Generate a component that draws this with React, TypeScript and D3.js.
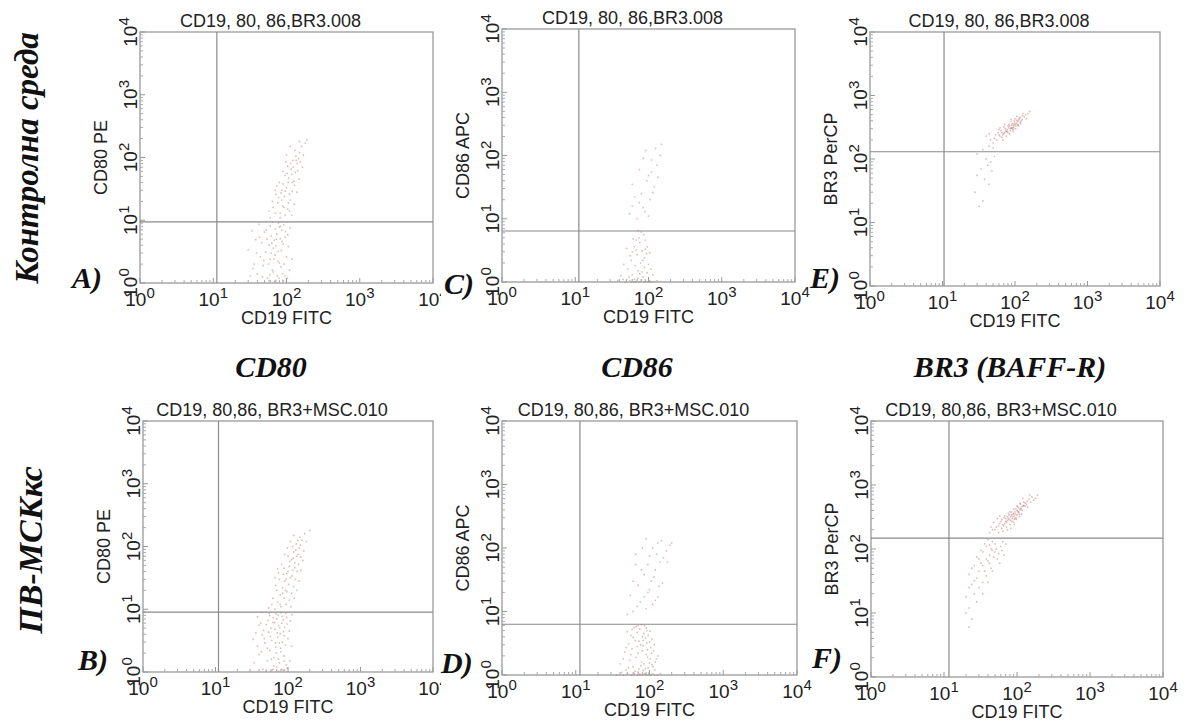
import React from 'react';
import * as d3 from 'd3';

// decade ticks of the log axes
const DECADES = [1, 10, 100, 1000, 10000];
const EXPONENTS = ['0', '1', '2', '3', '4'];

const TITLE_CTRL = 'CD19, 80, 86,BR3.008';
const TITLE_MSC = 'CD19, 80,86, BR3+MSC.010';
const ROW_LABELS = ['Контролна среда', 'ПВ-МСКкс'];
const COL_LABELS = ['CD80', 'CD86', 'BR3 (BAFF-R)'];
const X_LABEL = 'CD19 FITC';

// events: [CD19 FITC, marker]
const eventsA = [
  [55,1.2],[72,1.1],[88,1.4],[64,1.6],[48,1.9],[80,2.1],[95,1.3],[60,2.4],[70,2.8],[52,3.1],
  [85,3.3],[66,3.6],[76,2.2],[58,4.0],[90,4.2],[44,2.6],[68,4.8],[82,5.1],[62,5.6],[74,6.0],
  [96,5.4],[50,6.5],[86,6.9],[70,7.3],[60,8.1],[92,8.5],[78,9.0],[66,1.5],[100,2.6],[40,1.4],
  [54,5.0],[72,3.9],[64,9.5],[84,1.8],[58,1.1],[106,3.8],[46,4.4],[80,7.8],[75,1.3],[62,3.0],
  [32,1.3],[36,2.0],[30,3.4],[38,4.9],[34,6.8],[42,8.6],[35,1.7],[110,1.6],[118,2.4],[104,5.9],
  [112,7.6],[39,3.0],[47,1.25],[57,2.0],[67,2.4],[77,3.2],[87,4.6],[97,6.6],[53,7.0],[63,4.3],
  [73,5.0],[93,2.0],[103,1.2],[43,5.4],[83,8.0],[69,1.05],[79,1.2],[89,1.1],[59,1.35],[49,2.3],
  [82,11],[96,12],[70,13],[104,15],[88,17],[76,19],[112,21],[94,24],[84,27],[120,29],
  [100,33],[90,38],[126,42],[108,47],[96,52],[132,58],[116,65],[104,72],[140,80],[122,90],
  [134,105],[150,120],[110,14],[66,16],[78,23],[128,36],[142,62],[98,85],[60,11],[118,54],
  [86,30],[146,96],[130,130],[72,26],[106,40],
  [58,14],[64,20],[70,30],[80,40],[90,60],[100,110],[112,150],[160,150],[170,110],[180,170],
  [155,85],[165,70],[148,45],[138,28],[128,18],[118,12],[92,16],[86,21],[74,35],[110,26],
  [124,70],[136,90],[150,180],[190,190],[102,56],[114,80],[82,13],[96,29],[106,19],[120,40],
];
const eventsB = [
  [45,1.1],[58,1.05],[70,1.2],[82,1.1],[95,1.3],[52,1.5],[64,1.7],[76,1.4],[88,1.8],[40,1.9],
  [56,2.2],[68,2.5],[80,2.1],[92,2.7],[48,2.9],[60,3.2],[72,3.6],[84,3.0],[100,3.4],[44,3.9],
  [54,4.3],[66,4.8],[78,4.1],[90,5.2],[50,5.7],[62,6.2],[74,5.5],[86,6.8],[96,7.4],[56,7.9],
  [68,8.4],[80,8.8],[42,6.0],[104,4.5],[64,1.25],[76,2.9],[58,5.0],[70,7.0],[88,3.8],[52,2.4],
  [46,4.6],[82,6.0],[74,1.6],
  [34,1.4],[38,2.6],[36,4.2],[40,5.6],[38,7.6],[44,8.9],[33,3.3],[106,1.5],[112,2.6],[108,6.5],
  [114,8.2],[50,1.02],[62,1.1],[74,1.03],[86,1.06],[98,1.15],[47,3.4],[57,3.7],[67,2.9],[77,5.1],
  [87,4.4],[97,5.8],[53,6.6],[63,7.3],[73,8.1],[83,7.7],[93,8.6],[59,1.6],[69,2.0],[79,2.4],
  [89,1.5],[43,2.1],[55,8.7],[65,6.1],[71,4.2],
  [66,10],[80,11],[94,12],[72,13],[88,15],[104,14],[78,17],[96,19],[112,18],[84,22],
  [102,25],[120,23],[90,28],[108,32],[126,30],[96,37],[116,42],[134,40],[104,48],[124,55],
  [140,52],[112,62],[132,70],[150,68],[120,82],[142,95],[130,110],[156,125],[70,20],[60,12],
  [88,45],[146,140],[100,70],[76,30],[116,100],
  [54,10.5],[62,15],[68,24],[74,38],[82,52],[90,75],[98,95],[108,120],[120,150],[170,160],
  [180,120],[165,85],[160,60],[150,42],[142,28],[132,20],[122,15],[110,11],[94,30],[86,36],
  [118,65],[128,88],[138,75],[106,58],[92,20],[100,40],[114,34],[124,46],[78,12],[84,18],
  [200,180],[148,105],[136,125],[72,44],[66,32],
];
const eventsC = [
  [50,1],[62,1],[74,1],[86,1],[98,1],[110,1],[56,1.05],[68,1.02],[80,1.08],[92,1.03],
  [104,1.05],[45,1.1],[60,1.3],[72,1.5],[84,1.2],[96,1.4],[66,1.8],[78,2.0],[88,2.4],[58,2.2],
  [70,2.7],[82,3.1],[64,3.6],[76,4.2],[90,3.3],[52,1.6],[100,1.9],[74,5.0],[86,5.6],[68,4.6],
  [60,3.0],[94,2.8],[80,6.2],[72,1.15],[115,1.3],[42,1.25],
  [38,1.05],[48,1],[58,1],[66,1],[78,1.01],[90,1],[102,1],[120,1],[130,1.05],[54,1.2],
  [64,1.1],[76,1.35],[88,1.7],[108,1.6],[46,1.9],[56,2.6],[68,3.2],[84,2.2],[96,3.6],[62,4.8],
  [72,6.5],[90,4.6],[104,2.9],[50,3.4],[82,1.45],
  [70,10],[90,13],[60,16],[105,20],[80,25],[120,32],[95,40],[110,55],[130,70],[85,90],
  [125,130],[100,11],[75,18],
  [55,12],[65,22],[85,15],[115,26],[135,45],[100,48],[75,60],[92,120],[145,100],[60,35],
  [110,85],[150,150],
];
const eventsD = [
  [44,1],[56,1],[68,1],[80,1],[92,1],[104,1],[116,1],[50,1.04],[62,1.06],[74,1.03],
  [86,1.05],[98,1.07],[110,1.04],[48,1.2],[60,1.35],[72,1.25],[84,1.5],[96,1.3],[108,1.45],[54,1.7],
  [66,1.9],[78,1.6],[90,2.1],[102,1.8],[46,2.3],[58,2.6],[70,2.2],[82,2.9],[94,2.5],[114,2.4],
  [52,3.1],[64,3.5],[76,3.0],[88,3.8],[100,3.3],[56,4.2],[68,4.7],[80,4.0],[92,5.0],[62,5.6],
  [74,5.3],[86,6.0],[40,1.5],[120,1.6],[70,1.12],[82,1.18],
  [36,1],[62,1.01],[74,1],[86,1.02],[98,1],[128,1],[140,1.05],[42,1.1],[52,1.3],[64,1.15],
  [76,1.4],[88,1.25],[100,1.55],[112,1.35],[124,1.8],[44,1.8],[56,2.1],[68,2.8],[80,2.4],[92,3.2],
  [104,2.7],[116,3.0],[48,2.7],[60,3.9],[72,3.4],[84,4.5],[96,4.2],[108,3.7],[50,4.8],[66,5.8],
  [78,6.2],[90,5.5],[102,4.9],[58,5.2],[70,6.0],[82,3.5],[94,1.9],[106,2.2],[118,1.2],[130,2.0],
  [60,10],[90,11],[75,14],[110,13],[55,18],[95,20],[130,17],[70,26],[105,30],[150,28],
  [85,38],[120,45],[65,55],[140,60],[100,75],[170,90],[80,100],[130,120],[190,110],
  [50,9],[68,12],[85,17],[100,22],[115,35],[135,25],[60,30],[78,45],[95,55],[125,80],
  [155,70],[110,100],[145,130],[90,140],[200,120],[175,60],[65,80],[120,15],
];
const eventsE = [
  [52,210],[60,240],[66,220],[72,260],[78,290],[84,250],[90,310],[96,340],[102,300],[108,380],
  [114,420],[120,360],[64,280],[70,320],[76,230],[82,350],[88,390],[94,270],[100,430],[106,470],
  [112,330],[126,480],[58,260],[68,200],[86,280],[92,360],[74,300],[80,330],[98,400],[104,360],
  [62,310],[118,450],[130,520],[40,230],[46,200],[140,500],[110,400],[88,310],[76,270],[94,320],
  [56,200],[62,230],[70,250],[78,270],[86,300],[94,290],[102,330],[110,350],[118,380],[126,420],
  [134,460],[66,260],[74,280],[82,310],[90,340],[98,370],[106,410],[114,440],[122,400],[54,240],
  [60,290],[68,240],[84,330],[92,300],[100,350],[150,520],[160,560],[44,250],[50,180],[144,430],
  [108,340],[88,420],[72,350],[80,260],[96,310],
  [30,55],[34,70],[38,48],[42,80],[28,30],[36,22],[44,40],[40,100],[48,65],[32,18],
  [52,110],[46,90],[36,140],[44,160],[50,150],[30,120],
];
const eventsF = [
  [50,200],[56,230],[62,210],[68,250],[74,280],[80,240],[86,300],[92,330],[98,290],[104,370],
  [110,410],[116,350],[60,270],[66,310],[72,220],[78,340],[84,380],[90,260],[96,420],[102,460],
  [108,320],[122,470],[130,520],[138,560],[146,600],[154,540],[64,190],[70,300],[76,360],[82,280],
  [88,320],[94,380],[100,340],[106,440],[112,500],[118,400],[124,540],[44,220],[48,260],[54,300],
  [160,650],[170,580],[82,210],[92,240],[74,200],[120,620],[58,330],[140,450],
  [52,220],[58,250],[64,240],[70,270],[76,300],[82,320],[88,350],[94,300],[100,400],[106,380],
  [112,430],[118,460],[124,480],[130,470],[136,500],[66,230],[72,260],[78,290],[84,340],[90,360],
  [96,350],[102,390],[108,350],[114,420],[62,290],[68,330],[74,320],[86,270],[92,290],[98,310],
  [56,180],[46,200],[42,180],[180,620],[190,700],[150,700],[110,520],[100,470],[90,420],[80,380],
  [22,40],[26,55],[30,70],[34,90],[38,110],[42,80],[46,95],[50,120],[28,35],[32,60],
  [36,45],[40,65],[44,50],[48,75],[52,100],[56,85],[24,28],[30,25],[20,18],[22,12],
  [26,20],[60,110],[34,30],[38,38],[64,130],[40,140],
  [24,50],[28,75],[32,95],[36,120],[42,115],[46,130],[50,90],[54,70],[58,60],[62,95],
  [30,45],[34,55],[38,70],[42,60],[46,45],[26,32],[22,25],[20,10],[24,8],[22,6],
  [28,15],[34,20],[40,30],[66,80],[70,120],[44,100],
];

// quadrant gates [x, y]
const gates = {
  A: [11.2, 9.4], C: [11.2, 6.4], E: [10.5, 130],
  B: [11, 9], D: [11.4, 6.3], F: [11.7, 148],
};

const panels = [
  { id: 'A', title: TITLE_CTRL, yLabel: 'CD80 PE', events: eventsA },
  { id: 'C', title: TITLE_CTRL, yLabel: 'CD86 APC', events: eventsC },
  { id: 'E', title: TITLE_CTRL, yLabel: 'BR3 PerCP', events: eventsE },
  { id: 'B', title: TITLE_MSC, yLabel: 'CD80 PE', events: eventsB },
  { id: 'D', title: TITLE_MSC, yLabel: 'CD86 APC', events: eventsD },
  { id: 'F', title: TITLE_MSC, yLabel: 'BR3 PerCP', events: eventsF },
];

// where each plot box sits on the page
const layout = {
  A: { left: 140, top: 32, right: 433, bottom: 283, lx: 72, ly: 288, clip: 441 },
  C: { left: 502, top: 29, right: 795, bottom: 282, lx: 444, ly: 294 },
  E: { left: 870, top: 32, right: 1160, bottom: 286, lx: 810, ly: 288 },
  B: { left: 143, top: 421, right: 433, bottom: 672, lx: 78, ly: 670, clip: 441 },
  D: { left: 502, top: 421, right: 797, bottom: 675, lx: 441, ly: 673 },
  F: { left: 871, top: 421, right: 1163, bottom: 677, lx: 812, ly: 668 },
};

const SANS = '"Liberation Sans", Arial, Helvetica, sans-serif';
const SERIF = '"Liberation Serif", "Times New Roman", serif';

const minorTicks = DECADES.slice(0, 4).flatMap(d => d3.range(2, 10).map(k => d * k));

const Panel = ({ p }) => {
  const L = layout[p.id];
  const x = d3.scaleLog().domain([1, 10000]).range([L.left, L.right]);
  const y = d3.scaleLog().domain([1, 10000]).range([L.bottom, L.top]);
  const [gx, gy] = gates[p.id];
  const cx = (L.left + L.right) / 2;
  const cy = (L.top + L.bottom) / 2;
  const clipId = `clip-${p.id}`;

  return (
    <g>
      {L.clip && (
        <clipPath id={clipId}>
          <rect x={0} y={L.top - 40} width={L.clip} height={L.bottom - L.top + 90} />
        </clipPath>
      )}
      <g clipPath={L.clip ? `url(#${clipId})` : undefined}>
        {/* events */}
        {p.events.map((e, i) => (
          <circle key={i} cx={x(e[0])} cy={y(e[1])} r={0.9} fill="#b05858" opacity={0.4} />
        ))}

        {/* box */}
        <rect x={L.left} y={L.top} width={L.right - L.left} height={L.bottom - L.top}
          fill="none" stroke="#9a9a9a" strokeWidth={1.3} />

        {/* minor / major ticks */}
        {minorTicks.map(v => (
          <g key={v}>
            <line x1={x(v)} x2={x(v)} y1={L.bottom} y2={L.bottom - 3} stroke="#aaa" />
            <line x1={L.left} x2={L.left + 3} y1={y(v)} y2={y(v)} stroke="#aaa" />
          </g>
        ))}
        {DECADES.map(v => (
          <g key={v}>
            <line x1={x(v)} x2={x(v)} y1={L.bottom} y2={L.bottom - 5} stroke="#999" />
            <line x1={L.left} x2={L.left + 5} y1={y(v)} y2={y(v)} stroke="#999" />
          </g>
        ))}

        {/* gates */}
        <line x1={x(gx)} x2={x(gx)} y1={L.top} y2={L.bottom} stroke="#8a8a8a" strokeWidth={1.2} />
        <line x1={L.left} x2={L.right} y1={y(gy)} y2={y(gy)} stroke="#8a8a8a" strokeWidth={1.2} />

        {/* x tick labels */}
        {DECADES.map((v, i) => (
          <text key={v} x={x(v)} y={L.bottom + 23} textAnchor="middle"
            fontFamily={SANS} fontSize={19} fill="#222">
            10<tspan dy={-8} fontSize={15}>{EXPONENTS[i]}</tspan>
          </text>
        ))}
      </g>

      {/* y tick labels */}
      {DECADES.map((v, i) => (
        <text key={v} transform={`translate(${L.left - 3},${y(v)}) rotate(-90)`} textAnchor="middle"
          fontFamily={SANS} fontSize={19} fill="#222">
          10<tspan dy={-8} fontSize={15}>{EXPONENTS[i]}</tspan>
        </text>
      ))}

      {/* titles */}
      <text x={cx - 16} y={L.top - 5} textAnchor="middle" fontFamily={SANS} fontSize={18} fill="#222">
        {p.title}
      </text>
      <text x={cx} y={L.bottom + 41} textAnchor="middle" fontFamily={SANS} fontSize={18} fill="#222">
        {X_LABEL}
      </text>
      <text transform={`translate(${L.left - 33},${cy}) rotate(-90)`} textAnchor="middle"
        fontFamily={SANS} fontSize={18} fill="#222">
        {p.yLabel}
      </text>

      {/* panel letter */}
      <text x={L.lx} y={L.ly} fontFamily={SERIF} fontSize={30} fontWeight="bold" fontStyle="italic" fill="#111">
        {p.id})
      </text>
    </g>
  );
};

const App = () => {
  const colX = [271, 637, 1010];
  return (
    <svg width={1186} height={727} style={{ position: 'absolute', left: 0, top: 0, background: '#fff' }}>
      <rect width={1186} height={727} fill="#fff" />
      {panels.map(p => <Panel key={p.id} p={p} />)}

      {COL_LABELS.map((t, i) => (
        <text key={t} x={colX[i]} y={377} textAnchor="middle" fontFamily={SERIF} fontSize={30}
          fontWeight="bold" fontStyle="italic" fill="#111">{t}</text>
      ))}

      <text transform="translate(38,158) rotate(-90)" textAnchor="middle" fontFamily={SERIF}
        fontSize={33} fontWeight="bold" fontStyle="italic" fill="#111">{ROW_LABELS[0]}</text>
      <text transform="translate(42,550) rotate(-90)" textAnchor="middle" fontFamily={SERIF}
        fontSize={34} fontWeight="bold" fontStyle="italic" fill="#111">{ROW_LABELS[1]}</text>
    </svg>
  );
};

export default App;
